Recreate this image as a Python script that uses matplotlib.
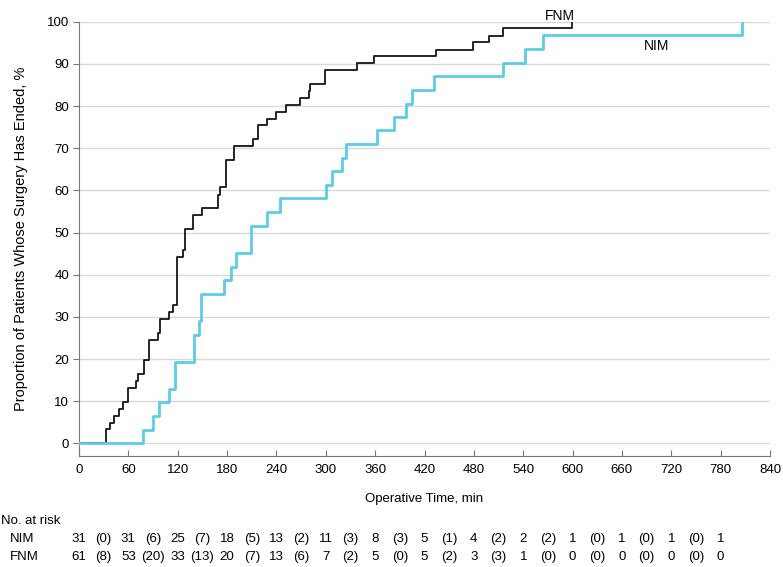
import matplotlib
matplotlib.use("Agg")
import matplotlib.pyplot as plt
import matplotlib.transforms as mtransforms

plt.rcParams['font.family'] = ['Liberation Sans', 'DejaVu Sans']

# step curves: event times (min) and cumulative proportion (%)
nim_time = [0, 78, 90, 97, 109, 117, 140, 146, 148, 176, 185, 191, 209, 229, 244,
            300, 308, 320, 325, 362, 383, 398, 405, 431, 516, 542, 564, 806]
nim_pct = [0, 3.2, 6.5, 9.7, 12.9, 19.4, 25.8, 29.0, 35.5, 38.7, 41.9, 45.2, 51.6,
           54.8, 58.1, 61.3, 64.5, 67.7, 71.0, 74.2, 77.4, 80.6, 83.9, 87.1, 90.3,
           93.5, 96.8, 100]

fnm_time = [0, 33, 38, 43, 49, 54, 59, 69, 72, 79, 85, 96, 99, 109, 114, 119, 126,
            129, 139, 149, 169, 172, 179, 189, 212, 218, 229, 240, 252, 269, 279,
            281, 299, 338, 359, 434, 479, 499, 516, 599]
fnm_pct = [0, 3.3, 4.9, 6.6, 8.2, 9.8, 13.1, 14.8, 16.4, 19.7, 24.6, 26.2, 29.5,
           31.1, 32.8, 44.3, 45.9, 50.8, 54.1, 55.7, 59.0, 60.7, 67.2, 70.5, 72.1,
           75.4, 77.0, 78.7, 80.3, 82.0, 83.6, 85.2, 88.5, 90.2, 91.8, 93.4, 95.1,
           96.7, 98.4, 100]

# numbers at risk table
risk_times = [0, 60, 120, 180, 240, 300, 360, 420, 480, 540, 600, 660, 720, 780]
nim_risk = [31, 31, 25, 18, 13, 11, 8, 5, 4, 2, 1, 1, 1, 1]
nim_cens = [0, 6, 7, 5, 2, 3, 3, 1, 2, 2, 0, 0, 0]
fnm_risk = [61, 53, 33, 20, 13, 7, 5, 5, 3, 1, 0, 0, 0, 0]
fnm_cens = [8, 20, 13, 7, 6, 2, 0, 2, 3, 0, 0, 0, 0]

fs = 9.5

fig = plt.figure(figsize=(7.83, 5.67), dpi=100)
ax = fig.add_axes([79 / 783, 1 - 456 / 567, (770 - 79) / 783, (456 - 21.7) / 567])

ax.step(fnm_time, fnm_pct, where='post', color='#151515', lw=1.3, zorder=2)
ax.step(nim_time, nim_pct, where='post', color='#5bcde6', lw=2.0, zorder=3)

ax.text(585, 101.3, 'FNM', ha='center', va='center', fontsize=fs + 0.5)
ax.text(702, 94.2, 'NIM', ha='center', va='center', fontsize=fs + 0.5)

ax.set_xlim(0, 840)
ax.set_ylim(-3, 100)
ax.set_xticks(range(0, 841, 60))
ax.set_yticks(range(0, 101, 10))
ax.yaxis.grid(True, color='#d9d9d9', lw=1)
ax.set_axisbelow(True)
for s in ['top', 'right']:
    ax.spines[s].set_visible(False)
for s in ['left', 'bottom']:
    ax.spines[s].set_color('#777777')
ax.tick_params(axis='x', direction='in', length=4, color='#777777', labelsize=fs, pad=6)
ax.tick_params(axis='y', direction='out', length=4, color='#777777', labelsize=fs, pad=3)

ax.set_xlabel('Operative Time, min', fontsize=fs, labelpad=12)
ax.set_ylabel('Proportion of Patients Whose Surgery Has Ended, %', fontsize=10.5,
              labelpad=14)

# at-risk table below the axis
trans = mtransforms.blended_transform_factory(ax.transData, fig.transFigure)
fig.text(1 / 783, 1 - 521 / 567, 'No. at risk', fontsize=fs, va='center', ha='left')
for label, risk, cens, ypix in [('NIM', nim_risk, nim_cens, 539),
                                ('FNM', fnm_risk, fnm_cens, 557)]:
    y = 1 - ypix / 567
    fig.text(10 / 783, y, label, fontsize=fs, va='center', ha='left')
    for t, r in zip(risk_times, risk):
        ax.text(t, y, str(r), transform=trans, fontsize=fs, va='center', ha='center',
                clip_on=False)
    for t, c in zip(risk_times[:-1], cens):
        ax.text(t + 30, y, '(%d)' % c, transform=trans, fontsize=fs, va='center',
                ha='center', clip_on=False)

fig.savefig('out.png', dpi=100)
